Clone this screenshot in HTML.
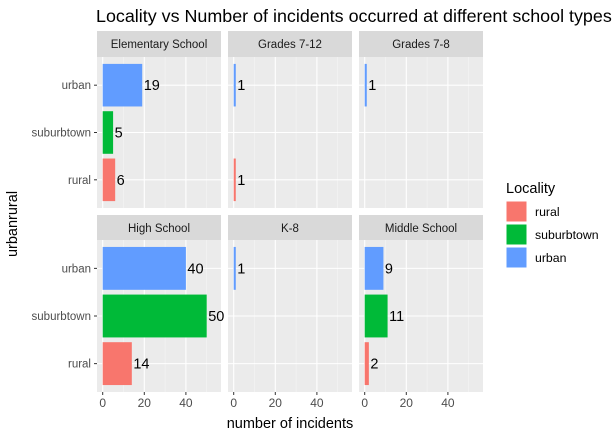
<!DOCTYPE html>
<html><head><meta charset="utf-8"><style>
body{margin:0;background:#fff;font-family:"Liberation Sans",Arial,sans-serif}
svg text{font-family:"Liberation Sans",Arial,sans-serif}
</style></head><body>
<svg id="c" width="615" height="438" xmlns="http://www.w3.org/2000/svg"></svg>
<script>
const facets=["Elementary School","Grades 7-12","Grades 7-8","High School","K-8","Middle School"];
const categories=["rural","suburbtown","urban"];
const ruralVals=[6,1,null,14,null,2];
const suburbVals=[5,null,null,50,null,11];
const urbanVals=[19,1,1,40,1,9];
const xTicks=[0,20,40];
const colors={rural:"#F8766D",suburbtown:"#00BA38",urban:"#619CFF"};
const svg=document.getElementById('c');
const NS="http://www.w3.org/2000/svg";
function el(t,a,txt){const e=document.createElementNS(NS,t);for(const k in a)e.setAttribute(k,a[k]);if(txt!=null)e.textContent=txt;svg.appendChild(e);return e;}
const colX=[97,228,359],W=124;
const rows=[{st:31,top:57,bot:208},{st:215,top:240,bot:392}];
function xs(c,v){return colX[c]+5.7+v*2.08;}
function ys(r,i){const b=rows[r].bot,t=rows[r].top;const h=b-t;return b-h*(0.5+i)/3*0.94-h*0.03;}
const title=el('text',{x:96,y:22,'font-size':17.9,fill:'#000'},'Locality vs Number of incidents occurred at different school types');

const series=[ruralVals,suburbVals,urbanVals];
facets.forEach((f,fi)=>{
 const c=fi%3,r=Math.floor(fi/3),R=rows[r];
 const p=el('rect',{x:colX[c],y:R.top,width:W,height:R.bot-R.top,fill:'#EBEBEB'});
 
 [10,30,50].forEach(v=>el('line',{x1:xs(c,v),x2:xs(c,v),y1:R.top,y2:R.bot,stroke:'#F5F5F5','stroke-width':0.6}));
 xTicks.forEach(v=>el('line',{x1:xs(c,v),x2:xs(c,v),y1:R.top,y2:R.bot,stroke:'#fff','stroke-width':1.1}));
 categories.forEach((k,i)=>el('line',{x1:colX[c],x2:colX[c]+W,y1:ys(r,i),y2:ys(r,i),stroke:'#fff','stroke-width':1.1}));
 const s=el('rect',{x:colX[c],y:R.st,width:W,height:R.top-R.st,fill:'#D9D9D9'});
 
 el('text',{x:colX[c]+W/2,y:R.st+17,'font-size':11.5,fill:'#1A1A1A','text-anchor':'middle'},f);
 const bh=(R.bot-R.top)/3*0.94*0.9;
 categories.forEach((k,i)=>{
  const v=series[i][fi]; if(v==null)return;
  const y=ys(r,i);
  const b=el('rect',{x:xs(c,0),y:y-bh/2,width:xs(c,v)-xs(c,0),height:bh,fill:colors[k]});
  
  el('text',{x:xs(c,v)+1.5,y:y+5,'font-size':14.5,fill:'#000'},v);
 });
 if(r===1) xTicks.forEach(v=>{el('line',{x1:xs(c,v),x2:xs(c,v),y1:R.bot,y2:R.bot+3,stroke:'#333'});el('text',{x:xs(c,v),y:R.bot+15,'font-size':12,fill:'#4D4D4D','text-anchor':'middle'},v);});
 if(c===0) categories.forEach((k,i)=>{el('line',{x1:94,x2:97,y1:ys(r,i),y2:ys(r,i),stroke:'#333'});el('text',{x:91,y:ys(r,i)+4,'font-size':11.5,fill:'#4D4D4D','text-anchor':'end'},k);});
});
const xl=el('text',{x:290,y:428,'font-size':14.5,fill:'#000','text-anchor':'middle'},'number of incidents');

const yl=el('text',{x:0,y:0,'font-size':14.5,fill:'#000','text-anchor':'middle',transform:'translate(17,224) rotate(-90)'},'urbanrural');

el('text',{x:506,y:193,'font-size':14.5,fill:'#000'},'Locality');
categories.forEach((k,i)=>{
 const y=201+i*23;
 const r=el('rect',{x:506,y:y,width:21,height:21,fill:colors[k],stroke:'#fff'});
 
 el('text',{x:535,y:y+15,'font-size':12.3,fill:'#000'},k);
});
</script>
</body></html>
